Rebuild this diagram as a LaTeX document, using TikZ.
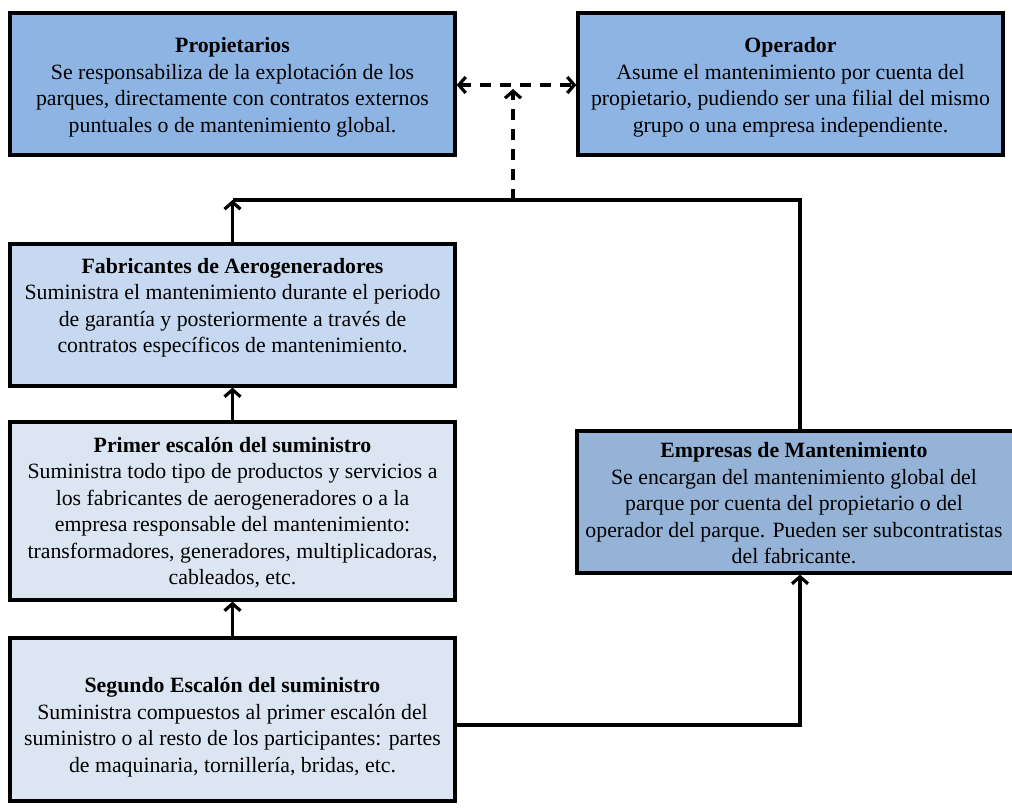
\documentclass[tikz,border=0pt]{standalone}
\usepackage{fontspec}
\setmainfont{Liberation Serif}
\usetikzlibrary{arrows.meta,shadows}

\definecolor{boxTop}{HTML}{8EB4E3}
\definecolor{boxMaint}{HTML}{95B3D7}
\definecolor{boxMaker}{HTML}{C6D9F1}
\definecolor{boxSupply}{HTML}{DCE6F2}

\tikzset{
  actor/.style={draw=black, line width=3.2pt, rectangle, inner sep=0pt,
    drop shadow={shadow xshift=1.5pt, shadow yshift=-2pt, opacity=0.25, fill=black}},
  caption/.style={align=center, inner sep=0pt, font=\fontsize{21.8}{26.5}\selectfont},
  link/.style={line width=3.2pt, line join=miter},
  barb/.tip={Straight Barb[length=7pt,width=16pt,line width=3.2pt]},
  tip/.style={-barb},
  bothtips/.style={barb-barb},
  dashlink/.style={link, dash pattern=on 11pt off 9pt},
}

\begin{document}
\begin{tikzpicture}[x=1pt, y=-1pt]
  \useasboundingbox (0,0) rectangle (1012,811);

  % boxes
  \node[actor, fill=boxTop, minimum width=445pt, minimum height=142pt] (prop) at (232.5,84) {};
  \node[actor, fill=boxTop, minimum width=425pt, minimum height=142pt] (oper) at (790.5,84) {};
  \node[actor, fill=boxMaker, minimum width=445pt, minimum height=142pt] (fab) at (232.5,315) {};
  \node[actor, fill=boxSupply, minimum width=445pt, minimum height=178pt] (prim) at (232.5,511) {};
  \node[actor, fill=boxSupply, minimum width=445pt, minimum height=163pt] (seg) at (232.5,719.5) {};
  \node[actor, fill=boxMaint, minimum width=437pt, minimum height=142pt] (emp) at (795.5,502) {};

  % texts
  \node[caption] (proptxt) at (232.5,87.5) {\textbf{Propietarios}\\
    Se responsabiliza de la explotación de los\\
    parques, directamente con contratos externos\\
    puntuales o de mantenimiento global.};
  \node[caption] (opertxt) at (790.5,87.5) {\textbf{Operador}\\
    Asume el mantenimiento por cuenta del\\
    propietario, pudiendo ser una filial del mismo\\
    grupo o una empresa independiente.};
  \node[caption] (fabtxt) at (232.5,308) {\textbf{Fabricantes de Aerogeneradores}\\
    Suministra el mantenimiento durante el periodo\\
    de garantía y posteriormente a través de\\
    contratos específicos de mantenimiento.};
  \node[caption] (primtxt) at (232.5,512.5) {\textbf{Primer escalón del suministro}\\
    Suministra todo tipo de productos y servicios a\\
    los fabricantes de aerogeneradores o a la\\
    empresa responsable del mantenimiento:\\
    transformadores, generadores, multiplicadoras,\\
    cableados, etc.};
  \node[caption] (segtxt) at (232.5,727) {\textbf{Segundo Escalón del suministro}\\
    Suministra compuestos al primer escalón del\\
    suministro o al resto de los participantes: partes\\
    de maquinaria, tornillería, bridas, etc.};
  \node[caption] (emptxt) at (794,503.5) {\textbf{Empresas de Mantenimiento}\\
    Se encargan del mantenimiento global del\\
    parque por cuenta del propietario o del\\
    operador del parque. Pueden ser subcontratistas\\
    del fabricante.};

  % junction points
  \coordinate (upL) at (232.5,200);
  \coordinate (upR) at (800,200);
  \coordinate (upM) at (513,200);
  \coordinate (dashTop) at (513,89);
  \coordinate (lowR) at (800,725);

  % connectors
  \draw[dashlink, bothtips] (prop.east |- 0,85) -- (oper.west |- 0,85);
  \draw[dashlink, tip] (upM) -- (dashTop);
  \draw[link, tip] (fab.north) -- (upL);
  \draw[link] (upL) -- (upR) -- (emp.north -| upR);
  \draw[link, tip] (prim.north) -- (fab.south);
  \draw[link, tip] (seg.north) -- (prim.south);
  \draw[link, tip] (seg.east |- lowR) -- (lowR) -- (emp.south -| lowR);
\end{tikzpicture}
\end{document}
